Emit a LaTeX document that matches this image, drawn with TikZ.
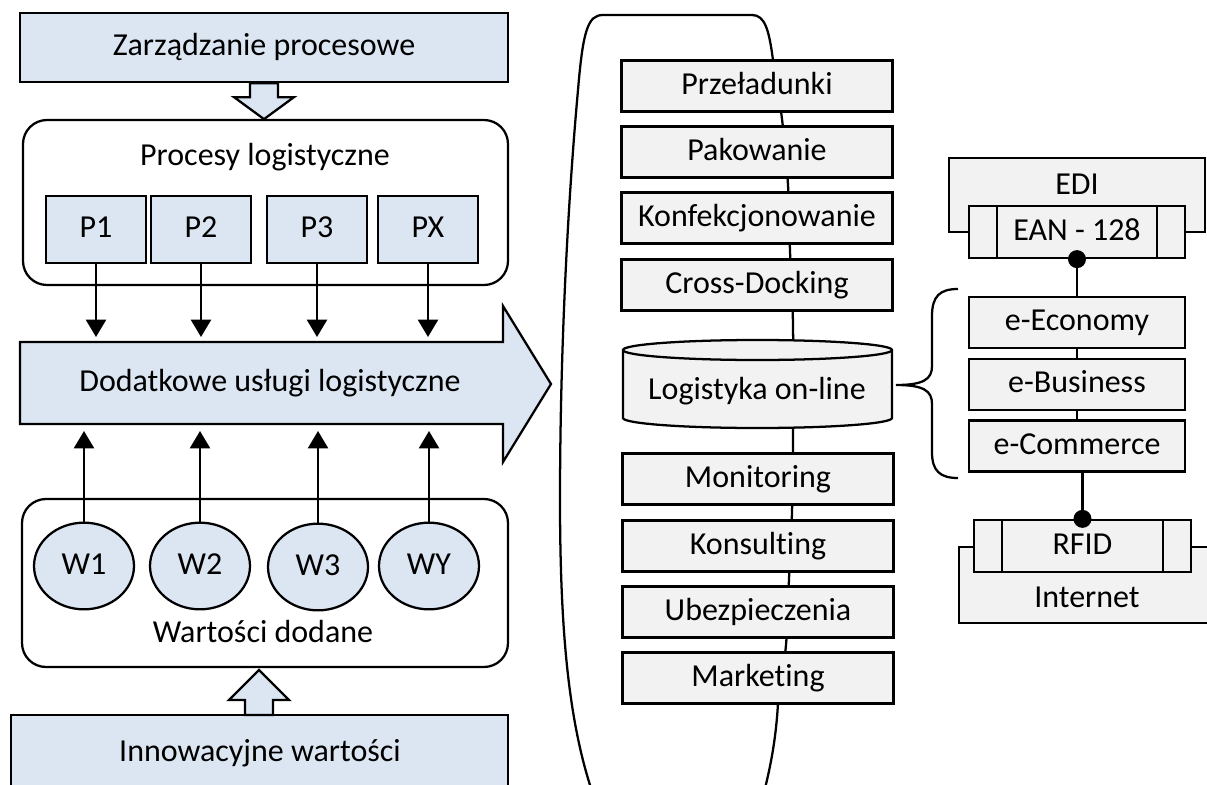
\documentclass[tikz,border=0pt]{standalone}
\usepackage{fontspec}
\setmainfont{Carlito}[Ligatures=NoCommon]
\usepackage{tikz}
\usetikzlibrary{
    arrows.meta,
    shapes.geometric
}
\definecolor{lightblu}{HTML}{DCE6F2}
\definecolor{lightgry}{HTML}{F2F2F2}
\tikzset{
    every node/.style={font=\fontsize{24}{29}\selectfont, text height=18pt, text depth=6pt, inner sep=0pt},
    conn/.style={line width=1.7pt},
    bluebox/.style={draw, fill=lightblu, line width=1.7pt},
    greybox/.style={draw, fill=lightgry, line width=1.7pt},
    pbox/.style={bluebox, minimum width=75pt, minimum height=50pt},
    wnode/.style={bluebox, ellipse, minimum width=75pt, minimum height=65pt},
    usluga/.style={greybox, minimum width=203.25pt, minimum height=38.25pt},
    ebox/.style={greybox, minimum width=162pt, minimum height=38.25pt},
    procbox/.style={greybox, minimum width=162.75pt, minimum height=39pt,
        path picture={\draw[line width=1.7pt]
            ([xshift=21pt]path picture bounding box.north west) -- ([xshift=21pt]path picture bounding box.south west)
            ([xshift=-21pt]path picture bounding box.north east) -- ([xshift=-21pt]path picture bounding box.south east);}},
    >={Triangle[width=15pt,length=13pt]}
}

\begin{document}
\begin{tikzpicture}[x=0.75pt, y=-0.75pt]
    \useasboundingbox (0,0) rectangle (1207,785);
    \clip (0,0) rectangle (1207,785);

    % procesy
    \node[bluebox, minimum width=366pt, minimum height=51.75pt] (zarz) at (264,47.5) {Zarządzanie procesowe};
    \draw[bluebox] (zarz.south) ++(-14,0) -- ++(0,14) -- ++(-16,0) -- ++(30,22) -- ++(30,-22) -- ++(-16,0) -- ++(0,-14) -- cycle;
    \draw[conn, rounded corners=18pt] (23,120) rectangle (508,285);
    \node (proc) at (265,157) {Procesy logistyczne};
    \node[pbox] (p1) at (96,229.5) {P1};
    \node[pbox] (p2) at (201,229.5) {P2};
    \node[pbox] (p3) at (317,229.5) {P3};
    \node[pbox] (px) at (428,229.5) {PX};

    % duza strzalka
    \draw[bluebox] (20,342) -- (503,342) -- (503,306) -- (551,384) -- (503,462) -- (503,424) -- (20,424) -- cycle;
    \node (dod) at (270,383) {Dodatkowe usługi logistyczne};
    \coordinate (dgora) at (0,337);
    \coordinate (ddol) at (0,431);
    \draw[conn, ->] (p1) -- (p1 |- dgora);
    \draw[conn, ->] (p2) -- (p2 |- dgora);
    \draw[conn, ->] (p3) -- (p3 |- dgora);
    \draw[conn, ->] (px) -- (px |- dgora);

    % wartosci
    \draw[conn, rounded corners=18pt] (22,499) rectangle (508,667);
    \node[wnode] (w1) at (84,566) {W1};
    \node[wnode] (w2) at (200,566) {W2};
    \node[wnode] (w3) at (318,567) {W3};
    \node[wnode] (wy) at (429,566) {WY};
    \node (wart) at (263,634) {Wartości dodane};
    \draw[conn, ->] (w1) -- (w1 |- ddol);
    \draw[conn, ->] (w2) -- (w2 |- ddol);
    \draw[conn, ->] (w3) -- (w3 |- ddol);
    \draw[conn, ->] (wy) -- (wy |- ddol);

    \draw[bluebox] (11,715) rectangle (508,800);
    \node (innow) at (260,753) {Innowacyjne wartości};
    \draw[bluebox] (245,715) -- ++(0,-15) -- ++(-16,0) -- ++(30,-30) -- ++(30,30) -- ++(-16,0) -- ++(0,15) -- cycle;

    % obwiednia uslug
    \draw[conn] (773,60) .. controls (769,30) and (765,15) .. (752,15) -- (603,15)
        .. controls (588,15) and (583,30) .. (578,90)
        .. controls (568,200) and (560,350) .. (560,500)
        .. controls (560,640) and (570,730) .. (595,800);
    \draw[conn] (778,703) .. controls (776,740) and (770,770) .. (762,800);
    \draw[conn] plot[smooth] coordinates {(773,60) (782,119) (788,185) (790,251) (793,325) (793,440) (792,512) (789,579) (786,645) (778,703)};

    \node[usluga] (prz) at (757,86) {Przeładunki};
    \node[usluga] (pak) at (757,152) {Pakowanie};
    \node[usluga] (konf) at (757,218) {Konfekcjonowanie};
    \node[usluga] (cross) at (757,285) {Cross-Docking};
    \draw[greybox] (623,350) -- (623,418) arc[start angle=180, end angle=360, x radius=100.875pt, y radius=7.5pt]
        -- (892,350) arc[start angle=0, end angle=180, x radius=100.875pt, y radius=7.5pt] -- cycle;
    \draw[conn] (623,350) arc[start angle=180, end angle=360, x radius=100.875pt, y radius=7.5pt];
    \node (onl) at (757,391) {Logistyka on-line};
    \node[usluga] (mon) at (758,479) {Monitoring};
    \node[usluga] (kons) at (758,546) {Konsulting};
    \node[usluga] (ubez) at (758,612) {Ubezpieczenia};
    \node[usluga] (mark) at (758,678) {Marketing};

    % klamra
    \draw[conn] (958,289) .. controls (940,289) and (932,296) .. (932,316) -- (932,366)
        .. controls (932,379) and (924,385) .. (896,385)
        .. controls (924,385) and (932,391) .. (932,404) -- (932,452)
        .. controls (932,471) and (940,478) .. (958,478);

    % e-uslugi
    \draw[greybox] (949,158) rectangle (1205,232);
    \node (edi) at (1077,186) {EDI};
    \node[procbox, minimum width=162pt] (ean) at (1077,232) {EAN - 128};
    \node[ebox] (eeco) at (1077,322.5) {e-Economy};
    \node[ebox] (ebus) at (1077,384.5) {e-Business};
    \node[ebox] (ecom) at (1077,446) {e-Commerce};
    \draw[greybox] (959,547) rectangle (1215,623);
    \node (inet) at (1087,599) {Internet};
    \node[procbox] (rfid) at (1082.5,546) {RFID};
    \draw[conn] (ean.south) -- (eeco.north);
    \draw[conn] (eeco) -- (ebus);
    \draw[conn] (ebus) -- (ecom);
    \draw[conn] (rfid.north) -- (rfid.north |- ecom.south);
    \fill (ean.south) circle[radius=6.75pt];
    \fill (rfid.north) circle[radius=6.75pt];
\end{tikzpicture}
\end{document}
